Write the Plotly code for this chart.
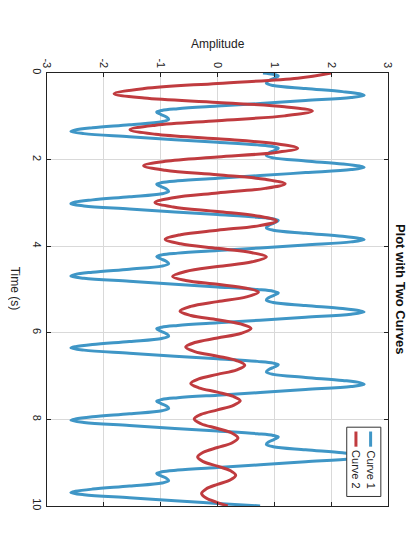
import plotly.graph_objects as go

# Данные: кривая 1 (синяя) — время (с) и амплитуда
time_1 = [0.00, 0.03, 0.07, 0.12, 0.18, 0.235, 0.29, 0.36, 0.43, 0.48, 0.515,
          0.565, 0.635, 0.705, 0.765, 0.825, 0.865, 0.905, 0.955, 1.015, 1.07, 1.125, 1.195, 1.265, 1.315, 1.35,
          1.40, 1.47, 1.54, 1.60, 1.66, 1.70, 1.74, 1.79, 1.85, 1.905, 1.96, 2.03, 2.10, 2.15, 2.18,
          2.23, 2.30, 2.37, 2.43, 2.49, 2.53, 2.57, 2.62, 2.68, 2.735, 2.79, 2.86, 2.93, 2.98, 3.02,
          3.07, 3.14, 3.21, 3.27, 3.33, 3.37, 3.41, 3.46, 3.52, 3.575, 3.63, 3.70, 3.77, 3.82, 3.85,
          3.90, 3.97, 4.04, 4.10, 4.16, 4.20, 4.24, 4.29, 4.35, 4.405, 4.46, 4.53, 4.60, 4.65, 4.69,
          4.74, 4.81, 4.88, 4.94, 5.00, 5.04, 5.08, 5.13, 5.19, 5.245, 5.30, 5.37, 5.44, 5.49, 5.52,
          5.57, 5.64, 5.71, 5.77, 5.83, 5.87, 5.91, 5.96, 6.02, 6.075, 6.13, 6.20, 6.27, 6.32, 6.35,
          6.40, 6.47, 6.54, 6.60, 6.66, 6.70, 6.74, 6.79, 6.85, 6.905, 6.96, 7.03, 7.10, 7.15, 7.19,
          7.24, 7.31, 7.38, 7.44, 7.50, 7.54, 7.58, 7.63, 7.69, 7.745, 7.80, 7.87, 7.94, 7.99, 8.02,
          8.07, 8.14, 8.21, 8.27, 8.33, 8.37, 8.41, 8.46, 8.52, 8.575, 8.63, 8.70, 8.77, 8.82, 8.86,
          8.91, 8.98, 9.05, 9.11, 9.17, 9.21, 9.25, 9.30, 9.36, 9.415, 9.47, 9.54, 9.61, 9.66, 9.69,
          9.74, 9.81, 9.88, 9.94, 10.0]
amp_1 = [0.80, 0.98, 1.07, 1.00, 0.90, 0.86, 0.98, 1.55, 2.20, 2.50, 2.58,
         2.35, 1.55, 0.75, 0.0, -0.70, -0.98, -1.07, -1.00, -0.90, -0.86, -0.98, -1.55, -2.20, -2.50, -2.58,
         -2.35, -1.55, -0.75, 0.0, 0.70, 0.98, 1.07, 1.00, 0.90, 0.86, 0.98, 1.55, 2.20, 2.50, 2.58,
         2.35, 1.55, 0.75, 0.0, -0.70, -0.98, -1.07, -1.00, -0.90, -0.86, -0.98, -1.55, -2.20, -2.50, -2.58,
         -2.35, -1.55, -0.75, 0.0, 0.70, 0.98, 1.07, 1.00, 0.90, 0.86, 0.98, 1.55, 2.20, 2.50, 2.58,
         2.35, 1.55, 0.75, 0.0, -0.70, -0.98, -1.07, -1.00, -0.90, -0.86, -0.98, -1.55, -2.20, -2.50, -2.58,
         -2.35, -1.55, -0.75, 0.0, 0.70, 0.98, 1.07, 1.00, 0.90, 0.86, 0.98, 1.55, 2.20, 2.50, 2.58,
         2.35, 1.55, 0.75, 0.0, -0.70, -0.98, -1.07, -1.00, -0.90, -0.86, -0.98, -1.55, -2.20, -2.50, -2.58,
         -2.35, -1.55, -0.75, 0.0, 0.70, 0.98, 1.07, 1.00, 0.90, 0.86, 0.98, 1.55, 2.20, 2.50, 2.58,
         2.35, 1.55, 0.75, 0.0, -0.70, -0.98, -1.07, -1.00, -0.90, -0.86, -0.98, -1.55, -2.20, -2.50, -2.58,
         -2.35, -1.55, -0.75, 0.0, 0.70, 0.98, 1.07, 1.00, 0.90, 0.86, 0.98, 1.55, 2.20, 2.50, 2.58,
         2.35, 1.55, 0.75, 0.0, -0.70, -0.98, -1.07, -1.00, -0.90, -0.86, -0.98, -1.55, -2.20, -2.50, -2.58,
         -2.35, -1.55, -0.75, 0.0, 0.75]

# Кривая 2 (красная) — затухающие колебания
time_2 = [0.00, 0.12, 0.24, 0.36, 0.48, 0.58, 0.68, 0.78, 0.88, 0.99, 1.10, 1.205, 1.31, 1.415,
          1.52, 1.63, 1.74, 1.84, 1.94, 2.04, 2.14, 2.245, 2.35, 2.455, 2.56, 2.665, 2.77,
          2.88, 2.99, 3.095, 3.20, 3.31, 3.42, 3.525, 3.63, 3.735, 3.84, 3.945, 4.05,
          4.15, 4.25, 4.36, 4.47, 4.585, 4.70, 4.79, 4.88, 4.97, 5.06, 5.17, 5.28,
          5.39, 5.50, 5.60, 5.70, 5.80, 5.90, 6.01, 6.12, 6.225, 6.33, 6.435, 6.54,
          6.645, 6.75, 6.855, 6.96, 7.065, 7.17, 7.27, 7.37, 7.47, 7.57, 7.675, 7.78,
          7.885, 7.99, 8.10, 8.21, 8.32, 8.43, 8.54, 8.65, 8.76, 8.87, 8.975, 9.08,
          9.185, 9.29, 9.395, 9.50, 9.605, 9.71, 9.815, 9.92, 10.0]
amp_2 = [2.00, 1.41, 0.0, -1.29, -1.82, -1.29, 0.0, 1.18, 1.67, 1.18, 0.0, -1.09, -1.54, -1.09,
         0.0, 1.00, 1.41, 1.00, 0.0, -0.92, -1.30, -0.92, 0.0, 0.84, 1.19, 0.84, 0.0,
         -0.78, -1.10, -0.78, 0.0, 0.74, 1.04, 0.74, 0.0, -0.65, -0.92, -0.65, 0.0,
         0.61, 0.86, 0.61, 0.0, -0.56, -0.79, -0.56, 0.0, 0.51, 0.72, 0.51, 0.0,
         -0.47, -0.66, -0.47, 0.0, 0.42, 0.59, 0.42, 0.0, -0.40, -0.56, -0.40, 0.0,
         0.34, 0.48, 0.34, 0.0, -0.33, -0.47, -0.33, 0.0, 0.28, 0.40, 0.28, 0.0,
         -0.29, -0.41, -0.29, 0.0, 0.26, 0.36, 0.26, 0.0, -0.25, -0.35, -0.25, 0.0,
         0.23, 0.32, 0.23, 0.0, -0.20, -0.28, -0.20, 0.0, 0.18]

# Подписи делений
amp_ticks = [-3, -2, -1, 0, 1, 2, 3]
amp_labels = ["-3", "-2", "-1", "0", "1", "2", "3"]
time_ticks = [0, 2, 4, 6, 8, 10]
time_labels = ["0", "2", "4", "6", "8", "10"]

series_names = ["Curve 1", "Curve 2"]
blue = "#3f96c6"
red = "#c03b3f"

fig = go.Figure()

# Рисунок повернут: амплитуда по горизонтали, время сверху вниз
fig.add_trace(go.Scatter(x=amp_1, y=time_1, mode="lines", name=series_names[0],
                         line=dict(color=blue, width=3, shape="spline", smoothing=1),
                         showlegend=False))
fig.add_trace(go.Scatter(x=amp_2, y=time_2, mode="lines", name=series_names[1],
                         line=dict(color=red, width=3, shape="spline", smoothing=1),
                         showlegend=False))

# Страница добавляет отступ 8px, поэтому размер чуть меньше окна
fig.update_layout(
    width=412, height=552,
    margin=dict(l=39, r=32, t=65, b=54),
    plot_bgcolor="white", paper_bgcolor="white",
    font=dict(family="Liberation Sans, Arial, sans-serif", size=11, color="#222"),
)

fig.update_xaxes(range=[-3, 3], side="top", tickvals=amp_ticks, ticktext=amp_labels,
                 tickangle=90, ticks="inside", ticklen=4, tickcolor="#222",
                 showline=True, linecolor="#222", linewidth=1, mirror="ticks",
                 showgrid=True, gridcolor="#d9d9d9", zeroline=False, automargin=False)
fig.update_yaxes(range=[10, 0], tickvals=time_ticks, ticktext=time_labels,
                 tickangle=90, ticks="inside", ticklen=4, tickcolor="#222",
                 showline=True, linecolor="#222", linewidth=1, mirror="ticks",
                 showgrid=True, gridcolor="#d9d9d9", zeroline=False, automargin=False)

# Заголовок и подписи осей (повернутые)
fig.add_annotation(text="<b>Plot with Two Curves</b>", x=1.037, y=0.5,
                   xref="paper", yref="paper", xanchor="center", yanchor="middle",
                   textangle=90, showarrow=False, font=dict(size=13, color="#111"))
fig.add_annotation(text="Time (s)", x=-0.094, y=0.502, xref="paper", yref="paper",
                   xanchor="center", yanchor="middle",
                   textangle=90, showarrow=False, font=dict(size=12))
fig.add_annotation(text="Amplitude", x=0.5, y=1.067, xref="paper", yref="paper",
                   xanchor="center", yanchor="middle",
                   showarrow=False, font=dict(size=12))

# Легенда вручную (повернута вместе с графиком)
fig.add_shape(type="rect", xref="paper", yref="paper", x0=0.879, x1=0.979, y0=0.022, y1=0.182,
              fillcolor="white", line=dict(color="#333", width=1), layer="above")
fig.add_shape(type="line", xref="paper", yref="paper", x0=0.949, x1=0.949, y0=0.137, y1=0.172,
              line=dict(color=blue, width=3), layer="above")
fig.add_shape(type="line", xref="paper", yref="paper", x0=0.906, x1=0.906, y0=0.137, y1=0.172,
              line=dict(color=red, width=3), layer="above")
fig.add_annotation(text=series_names[0], x=0.949, y=0.083, xref="paper", yref="paper",
                   xanchor="center", yanchor="middle",
                   textangle=90, showarrow=False, font=dict(size=11))
fig.add_annotation(text=series_names[1], x=0.906, y=0.083, xref="paper", yref="paper",
                   xanchor="center", yanchor="middle",
                   textangle=90, showarrow=False, font=dict(size=11))

fig.write_html("out.html")
